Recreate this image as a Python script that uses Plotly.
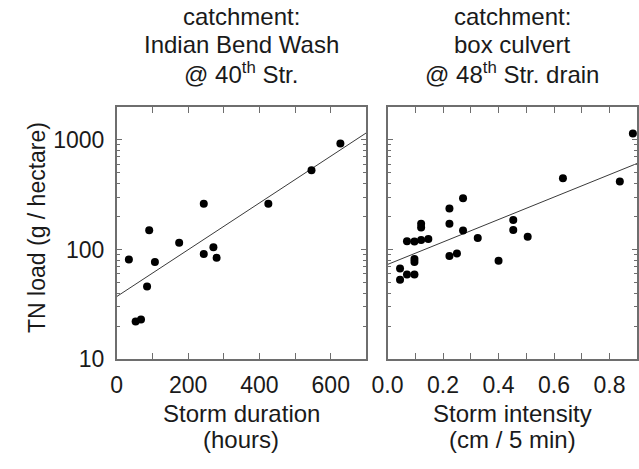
import plotly.graph_objects as go

# ---- data ----
# left panel: Indian Bend Wash @ 40th Str.
dur_hours = [34, 53, 68, 85, 91, 107, 175, 244, 244, 271, 280, 425, 546, 627]
dur_load = [81, 22, 23, 46, 150, 77, 115, 262, 91, 105, 84, 262, 529, 927]
dur_fit_x = [0, 700]
dur_fit_y = [37.2, 1162]

# right panel: box culvert @ 48th Str. drain
int_cm = [0.045, 0.045, 0.070, 0.070, 0.097, 0.097, 0.097, 0.097, 0.121, 0.121,
          0.121, 0.147, 0.223, 0.223, 0.223, 0.250, 0.272, 0.272, 0.325, 0.400,
          0.453, 0.453, 0.505, 0.632, 0.837, 0.884]
int_load = [67, 53, 119, 59, 118, 82, 77, 59, 172, 159,
            122, 125, 237, 172, 87, 92, 293, 149, 127, 79,
            186, 151, 131, 447, 417, 1146]
int_fit_x = [0, 0.9]
int_fit_y = [73, 611]

left_title = ["catchment:", "Indian Bend Wash", "@ 40<sup>th</sup> Str."]
right_title = ["catchment:", "box culvert", "@ 48<sup>th</sup> Str. drain"]
left_xlabel = ["Storm duration", "(hours)"]
right_xlabel = ["Storm intensity", "(cm / 5 min)"]
y_label = "TN load (g / hectare)"
y_tickvals = [10, 100, 1000]

W, H = 639, 469
FONT = "Liberation Sans, Arial, sans-serif"
TXT = "#1a1a1a"
FRAME = "#6e6e6e"

fig = go.Figure()
fig.add_trace(go.Scatter(x=dur_fit_x, y=dur_fit_y, mode="lines",
                         line=dict(color="#3a3a3a", width=1), xaxis="x", yaxis="y",
                         showlegend=False))
fig.add_trace(go.Scatter(x=dur_hours, y=dur_load, mode="markers",
                         marker=dict(color="black", size=8), xaxis="x", yaxis="y",
                         showlegend=False))
fig.add_trace(go.Scatter(x=int_fit_x, y=int_fit_y, mode="lines",
                         line=dict(color="#3a3a3a", width=1), xaxis="x2", yaxis="y2",
                         showlegend=False))
fig.add_trace(go.Scatter(x=int_cm, y=int_load, mode="markers",
                         marker=dict(color="black", size=8), xaxis="x2", yaxis="y2",
                         showlegend=False))

x0a, x1a = 103.5 / W, 360 / W
x0b, x1b = 381.7 / W, 638.3 / W
ytop, ybot = 110, 369.3
yd = [(H - ybot) / H, (H - ytop) / H]

common = dict(showline=True, linecolor=FRAME, linewidth=1.5, mirror="ticks",
              ticks="inside", ticklen=6, tickcolor=FRAME, tickwidth=1,
              showgrid=False, zeroline=False,
              tickfont=dict(family=FONT, size=23, color=TXT))

fig.update_layout(
    width=W, height=H,
    margin=dict(l=0, r=0, t=0, b=0),
    paper_bgcolor="white", plot_bgcolor="white",
    xaxis=dict(domain=[x0a, x1a], range=[0, 700], tickvals=[0, 200, 400, 600],
               minor=dict(dtick=100, tick0=0, ticks="inside", ticklen=6,
                          tickcolor=FRAME),
               anchor="y", ticklabelstandoff=5, **common),
    yaxis=dict(domain=yd, type="log", range=[1, 3.301], tickvals=y_tickvals,
               ticktext=[str(v) for v in y_tickvals],
               minor=dict(dtick="D1", ticks="inside", ticklen=4, tickcolor=FRAME),
               anchor="x", ticklabelstandoff=6, **common),
    xaxis2=dict(domain=[x0b, x1b], range=[0, 0.9], tickvals=[0, 0.2, 0.4, 0.6, 0.8],
                tickformat=".1f",
                minor=dict(dtick=0.1, tick0=0, ticks="inside", ticklen=6,
                           tickcolor=FRAME),
                anchor="y2", ticklabelstandoff=5, **common),
    yaxis2=dict(domain=yd, type="log", range=[1, 3.301], tickvals=y_tickvals,
                showticklabels=False,
                minor=dict(dtick="D1", ticks="inside", ticklen=4, tickcolor=FRAME),
                anchor="x2", **common),
)

def add_text(text, xpx, ypx, size=24, angle=0):
    fig.add_annotation(text=text, x=xpx / W, y=(H - ypx) / H, xref="paper",
                       yref="paper", showarrow=False, xanchor="center",
                       yanchor="middle", textangle=angle, borderpad=0,
                       font=dict(family=FONT, size=size, color=TXT))

title_y = [16.5, 46, 75.5]
for line, yy in zip(left_title, title_y):
    add_text(line, 231.5, yy)
for line, yy in zip(right_title, title_y):
    add_text(line, 510, yy)

xlab_y = [425.5, 452]
for line, yy in zip(left_xlabel, xlab_y):
    add_text(line, 231.5, yy)
for line, yy in zip(right_xlabel, xlab_y):
    add_text(line, 510, yy)

add_text(y_label, 21, 234, size=23, angle=-90)

fig.write_html("out.html")
